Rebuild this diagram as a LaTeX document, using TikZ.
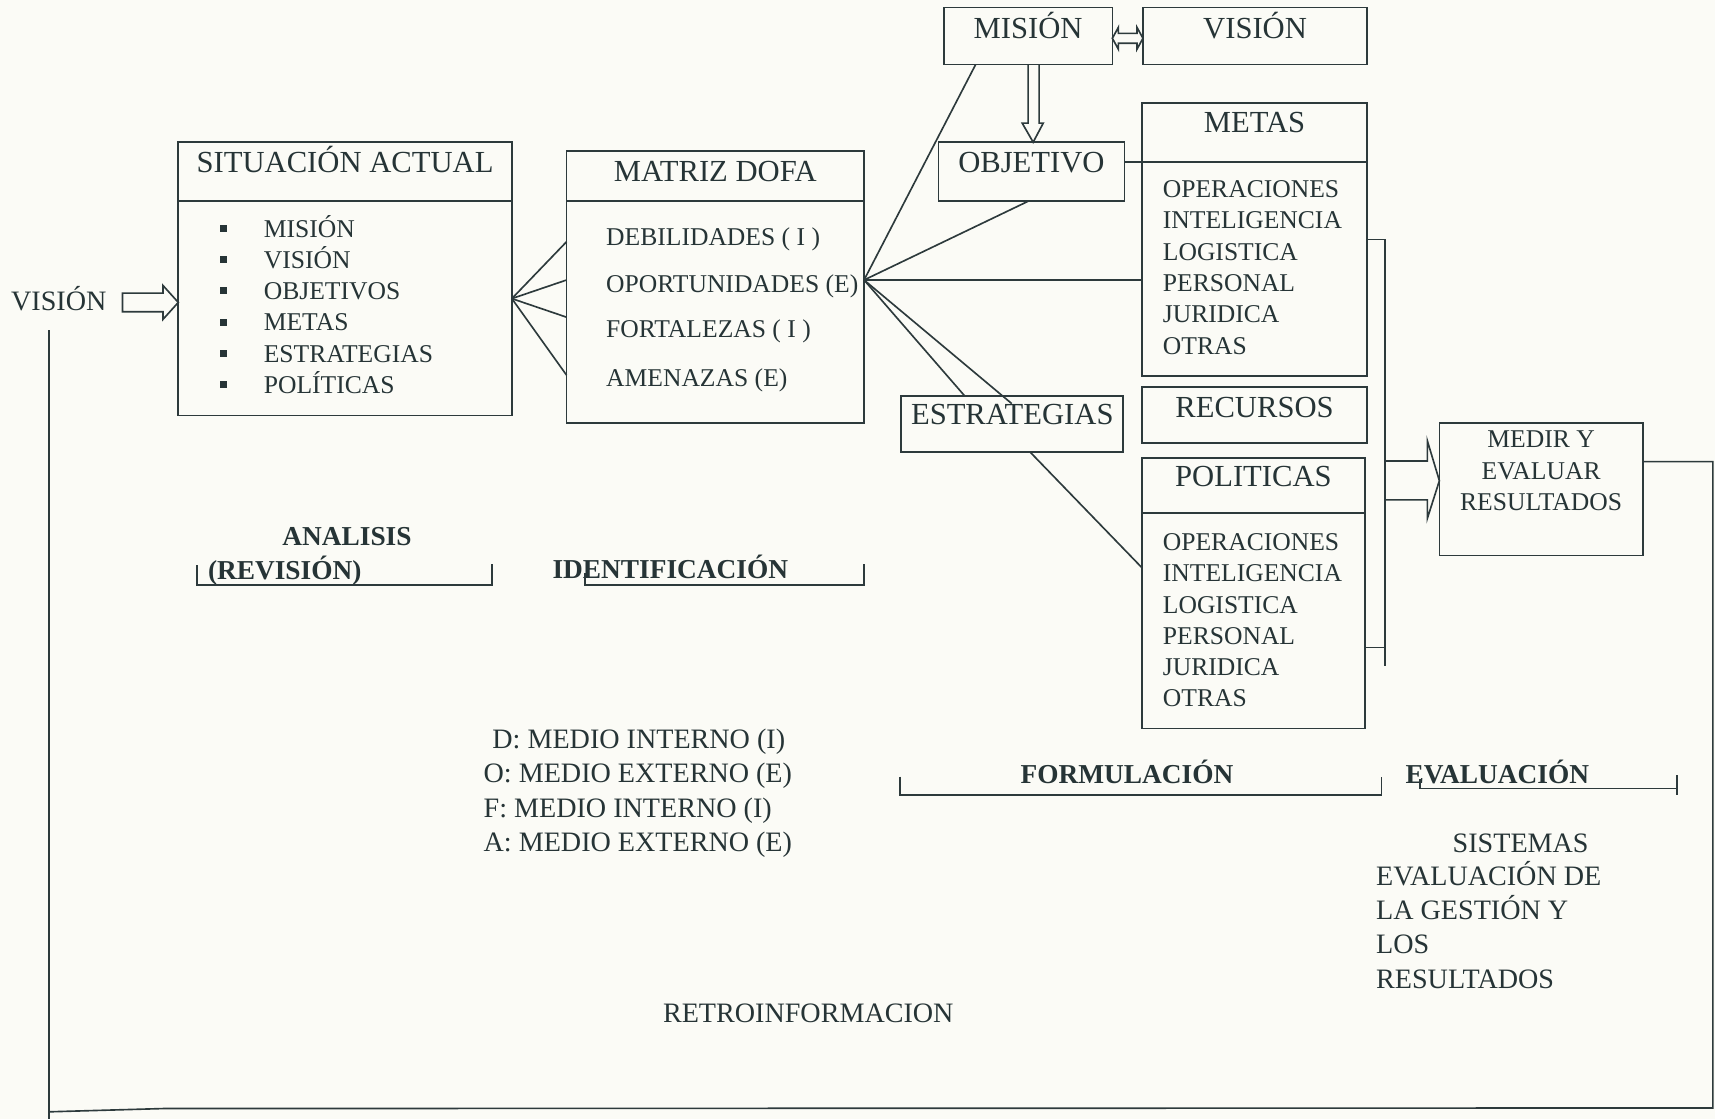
\documentclass[tikz,border=0pt]{standalone}
\usepackage{fontspec}
\setmainfont{Liberation Serif}
\definecolor{txtcol}{RGB}{38,52,54}
\definecolor{linecol}{RGB}{45,58,60}
\definecolor{paper}{RGB}{251,251,246}
\tikzset{
  box/.style={draw=linecol, line width=1.5pt, rectangle, inner sep=0pt, outer sep=0pt},
  ttl/.style={font=\fontsize{28}{30}\selectfont, text=txtcol, inner sep=0pt, anchor=base},
  itm/.style={font=\fontsize{23.4}{26}\selectfont, text=txtcol, inner sep=0pt, anchor=base west},
  smalltxt/.style={font=\fontsize{23.4}{26}\selectfont, text=txtcol, inner sep=0pt, anchor=base},
  lbl/.style={font=\fontsize{25.7}{28}\selectfont, text=txtcol, inner sep=0pt, anchor=base west},
  phase/.style={font=\bfseries\fontsize{25}{28}\selectfont, text=txtcol, inner sep=0pt, anchor=base west},
  bul/.style={rectangle, fill=txtcol, minimum size=6.5pt, inner sep=0pt},
  conn/.style={draw=linecol, line width=1.5pt, line join=miter},
}
\begin{document}
\begin{tikzpicture}[x=1pt, y=-1pt]
\useasboundingbox (0,0) rectangle (1568,1023);
\fill[paper] (0,0) rectangle (1568,1023);

% ---- main boxes ----
\node[box, minimum width=305pt, minimum height=250pt] (sit) at (315.5,255) {};
\node[box, minimum width=272pt, minimum height=249pt] (dofa) at (654,262.5) {};
\node[box, minimum width=154pt, minimum height=52pt] (mision) at (940,33) {};
\node[box, minimum width=205pt, minimum height=52pt] (vision) at (1147.5,33) {};
\node[box, minimum width=170pt, minimum height=54pt] (objetivo) at (943,157) {};
\node[box, minimum width=206pt, minimum height=250pt] (metas) at (1147,219) {};
\node[box, minimum width=206pt, minimum height=51pt] (recursos) at (1147,379.5) {};
\node[box, minimum width=203pt, minimum height=51pt] (estrategias) at (925.5,387.5) {};
\node[box, minimum width=204pt, minimum height=247pt] (politicas) at (1146,542.5) {};
\node[box, minimum width=186pt, minimum height=121pt] (medir) at (1409,447.5) {};

% title dividers
\draw[conn] (sit.west |- 0,184) -- (sit.east |- 0,184);
\draw[conn] (dofa.west |- 0,184) -- (dofa.east |- 0,184);
\draw[conn] (metas.west |- 0,148) -- (metas.east |- 0,148);
\draw[conn] (politicas.west |- 0,469) -- (politicas.east |- 0,469);

% ---- titles ----
\node[ttl] (sitT) at (315.5,158) {SITUACIÓN ACTUAL};
\node[ttl] (dofaT) at (654,166) {MATRIZ DOFA};
\node[ttl] (misionT) at (940,35) {MISIÓN};
\node[ttl] (visionT) at (1147.5,35) {VISIÓN};
\node[ttl] (objetivoT) at (943,158) {OBJETIVO};
\node[ttl] (metasT) at (1147,121) {METAS};
\node[ttl] (recursosT) at (1147,382) {RECURSOS};
\node[ttl] (estrategiasT) at (925.5,388) {ESTRATEGIAS};
\node[ttl] (politicasT) at (1146,445) {POLITICAS};

% ---- box contents ----
\foreach \t [count=\i] in {MISIÓN, VISIÓN, OBJETIVOS, METAS, ESTRATEGIAS, POLÍTICAS} {
  \node[bul] (sitb\i) at (204,{217+28.5*(\i-1)-8}) {};
  \node[itm] (siti\i) at (241,{217+28.5*(\i-1)}) {\t};
}
\node[itm] (dofa1) at (554,224) {DEBILIDADES ( I )};
\node[itm] (dofa2) at (554,267) {OPORTUNIDADES (E)};
\node[itm] (dofa3) at (554,309) {FORTALEZAS ( I )};
\node[itm] (dofa4) at (554,353) {AMENAZAS (E)};
\foreach \t [count=\i] in {OPERACIONES, INTELIGENCIA, LOGISTICA, PERSONAL, JURIDICA, OTRAS} {
  \node[itm] (metasi\i) at (1063,{180.5+28.7*(\i-1)}) {\t};
  \node[itm] (politicasi\i) at (1063,{503.5+28.5*(\i-1)}) {\t};
}
\node[smalltxt] (medir1) at (1409,409) {MEDIR Y};
\node[smalltxt] (medir2) at (1409,438) {EVALUAR};
\node[smalltxt] (medir3) at (1409,466.5) {RESULTADOS};

% ---- entry arrow ----
\node[lbl] (vislabel) at (10,284) {VISIÓN};
\draw[conn] (112,268) -- (149,268) -- (149,261) -- (sit.west |- 0,276.5)
  -- (149,292) -- (149,285) -- (112,285) -- cycle;

% ---- fan from the situation box to the SWOT matrix ----
\coordinate (sitR) at (sit.east |- 0,273);
\foreach \y in {221,256,290,343} {
  \draw[conn] (sitR) -- (dofa.west |- 0,\y);
}

% ---- fan from the SWOT matrix to the formulation boxes ----
\coordinate (dofaR) at (dofa.east |- 0,256);
\draw[conn] (dofaR) -- ([xshift=29pt]mision.south west);
\draw[conn] (dofaR) -- ([xshift=-3pt]objetivo.south);
\draw[conn] (dofaR) -- (metas.west |- dofaR);
\draw[conn] (dofaR) -- ([xshift=58pt]estrategias.north west);
\draw[conn] (dofaR) -- (925,369);
\draw[conn] ([xshift=16pt]estrategias.south) -- (politicas.west |- 0,519);
\draw[conn] (objetivo.east |- 0,148) -- (metas.west |- 0,148);

% ---- mission / vision double arrow ----
\draw[conn] (mision.east |- 0,35) -- (1022.5,25) -- (1022.5,30.5) -- (1039.5,30.5)
  -- (1039.5,25) -- (vision.west |- 0,35) -- (1039.5,45) -- (1039.5,39.5)
  -- (1022.5,39.5) -- (1022.5,45) -- cycle;

% ---- mission to objective arrow ----
\draw[conn] (940,59.5) -- (940,112.6) -- (934.6,112.6) -- (objetivo.north -| 944.6,0)
  -- (953.8,112.6) -- (950,112.6) -- (950,59.5);

% ---- collector line and arrow into the evaluation box ----
\draw[conn] (metas.east |- 0,219) -- (1266,219) -- (1266,609);
\draw[conn] (politicas.east |- 0,592) -- (1266,592);
\draw[conn] (1266,421.5) -- (1305,421.5) -- (1305,403) -- (medir.west |- 0,439.5)
  -- (1305,474) -- (1305,457) -- (1266,457);

% ---- feedback loop ----
\coordinate (fbtop) at (45,302);
\draw[conn] (medir.east |- 0,422) -- (1566,422) -- (1566,1013) -- (150,1013.5) -- (45,1016.5);
\draw[conn] (fbtop) -- (45,1023);

% ---- phase labels and brackets ----
\node[phase] (analisis) at (258,499) {ANALISIS};
\node[phase] (revision) at (190,530) {(REVISIÓN)};
\draw[conn] (180,517) -- (180,535) -- (450,535) -- (450,516);
\node[phase] (ident) at (505,529) {IDENTIFICACIÓN};
\draw[conn] (535,524) -- (535,535) -- (790,535) -- (790,516);
\node[phase] (formul) at (933,716) {FORMULACIÓN};
\draw[conn] (823,710) -- (823,727) -- (1263,727) -- (1263,710);
\node[phase] (evalua) at (1285,716) {EVALUACIÓN};
\draw[conn] (1298,712) -- (1298,721) -- (1533,721);
\draw[conn] (1533,709) -- (1533,727);

% ---- legend of the SWOT matrix ----
\node[lbl] (legD) at (450,684.5) {D: MEDIO INTERNO (I)};
\node[lbl] (legO) at (442,715.5) {O: MEDIO EXTERNO (E)};
\node[lbl] (legF) at (442,747.5) {F: MEDIO INTERNO (I)};
\node[lbl] (legA) at (442,778.5) {A: MEDIO EXTERNO (E)};

% ---- evaluation systems ----
\node[lbl] (sis1) at (1328,779) {SISTEMAS};
\node[lbl] (sis2) at (1258,810) {EVALUACIÓN DE};
\node[lbl] (sis3) at (1258,841) {LA GESTIÓN Y};
\node[lbl] (sis4) at (1258,872) {LOS};
\node[lbl] (sis5) at (1258,904) {RESULTADOS};

\node[lbl] (retro) at (606,935) {RETROINFORMACION};
\end{tikzpicture}
\end{document}
